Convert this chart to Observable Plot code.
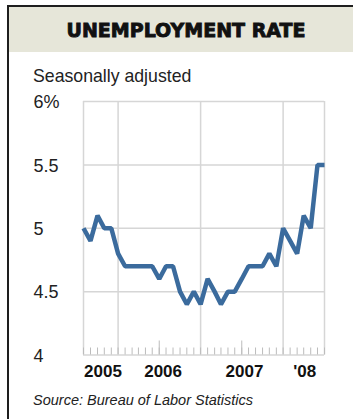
<!DOCTYPE html>
<html><head><meta charset="utf-8">
<script src="https://cdn.jsdelivr.net/npm/d3@7"></script>
<script src="https://cdn.jsdelivr.net/npm/@observablehq/plot@0.6"></script>
<style>
html,body{margin:0;padding:0;background:#fff;}
#wrap{position:relative;width:353px;height:419px;overflow:hidden;background:#fff;font-family:"Liberation Sans",Arial,sans-serif;}
#leftbar{position:absolute;left:7px;top:5px;width:2px;height:414px;background:#1e1e1e;}
#topbar{position:absolute;left:7px;top:5px;width:346px;height:2px;background:#1e1e1e;}
#header{position:absolute;left:9px;top:7px;width:344px;height:45px;background:#e6e6d9;}
#title{position:absolute;left:14px;top:21px;width:344px;text-align:center;font-family:"DejaVu Sans",sans-serif;font-weight:bold;font-size:19px;line-height:1;-webkit-text-stroke:0.9px #111;color:#111;white-space:nowrap;}
#subtitle{position:absolute;left:33px;top:67.7px;font-size:17.7px;line-height:1;color:#222;white-space:nowrap;}
#source{position:absolute;left:33px;top:392.7px;font-style:italic;font-size:14.5px;line-height:1;color:#222;white-space:nowrap;}
#chart{position:absolute;left:0;top:0;}
</style></head>
<body>
<div id="wrap">
  <div id="header"></div>
  <div id="topbar"></div>
  <div id="leftbar"></div>
  <div id="title">UNEMPLOYMENT RATE</div>
  <div id="subtitle">Seasonally adjusted</div>
  <div id="chart"></div>
  <div id="source">Source: Bureau of Labor Statistics</div>
</div>
<script>
const months = [
  "2005-07","2005-08","2005-09","2005-10","2005-11","2005-12",
  "2006-01","2006-02","2006-03","2006-04","2006-05","2006-06",
  "2006-07","2006-08","2006-09","2006-10","2006-11","2006-12",
  "2007-01","2007-02","2007-03","2007-04","2007-05","2007-06",
  "2007-07","2007-08","2007-09","2007-10","2007-11","2007-12",
  "2008-01","2008-02","2008-03","2008-04","2008-05","2008-06"
];
const rates = [
  5.0,4.9,5.1,5.0,5.0,4.8,
  4.7,4.7,4.7,4.7,4.7,4.6,
  4.7,4.7,4.5,4.4,4.5,4.4,
  4.6,4.5,4.4,4.5,4.5,4.6,
  4.7,4.7,4.7,4.8,4.7,5.0,
  4.9,4.8,5.1,5.0,5.5,5.5
];
const yTicks = [4, 4.5, 5, 5.5, 6];
const yTickLabels = ["4", "4.5", "5", "5.5", "6%"];
const gridMonths = ["2005-07", "2005-12", "2006-12", "2007-12", "2008-06"];
const midYearMonths = ["2006-06", "2007-06"];
const yearLabels = ["2005", "2006", "2007", "'08"];
const yearLabelDates = ["2005-09-25", "2006-06-18", "2007-06-13", "2008-03-05"];

const parse = s => new Date(s.length === 7 ? s + "-01T00:00:00Z" : s + "T00:00:00Z");
const series = months.map((m, i) => ({date: parse(m), value: rates[i]}));
const yRows = yTicks.map((v, i) => ({v, label: yTickLabels[i]}));
const yearRows = yearLabels.map((t, i) => ({date: parse(yearLabelDates[i]), label: t}));

const grid = "#d6d6d6";
const tick = "#bcbcbc";

const plot = Plot.plot({
  width: 353,
  height: 419,
  marginLeft: 83,
  marginRight: 29,
  marginTop: 101,
  marginBottom: 64.5,
  x: {type: "utc", domain: [parse(months[0]), parse(months[months.length - 1])], axis: null},
  y: {domain: [4, 6], axis: null},
  style: {background: "transparent", fontFamily: "Liberation Sans, Arial, sans-serif", overflow: "visible"},
  marks: [
    Plot.ruleY(yTicks, {stroke: grid, strokeWidth: 1.5}),
    Plot.ruleX(gridMonths.map(parse), {stroke: grid, strokeWidth: 1.5}),
    Plot.ruleX(months.map(parse), {y1: 4, y2: 4, insetTop: -7, stroke: tick, strokeWidth: 1}),
    Plot.ruleX(midYearMonths.map(parse), {y1: 4, y2: 4, insetTop: -14, stroke: tick, strokeWidth: 1}),
    Plot.line(series, {x: "date", y: "value", stroke: "#3b6b9d", strokeWidth: 4.5, strokeLinejoin: "miter", strokeLinecap: "butt"}),
    Plot.text(yRows, {y: "v", text: "label", frameAnchor: "left", lineAnchor: "middle", textAnchor: "start", dx: -50, dy: 1, fontSize: 18, fill: "#222"}),
    Plot.text(yearRows, {x: "date", text: "label", frameAnchor: "bottom", lineAnchor: "middle", dy: 17, fontSize: 17, fontWeight: "bold", fill: "#111"})
  ]
});
document.getElementById("chart").appendChild(plot);
</script>
</body></html>
